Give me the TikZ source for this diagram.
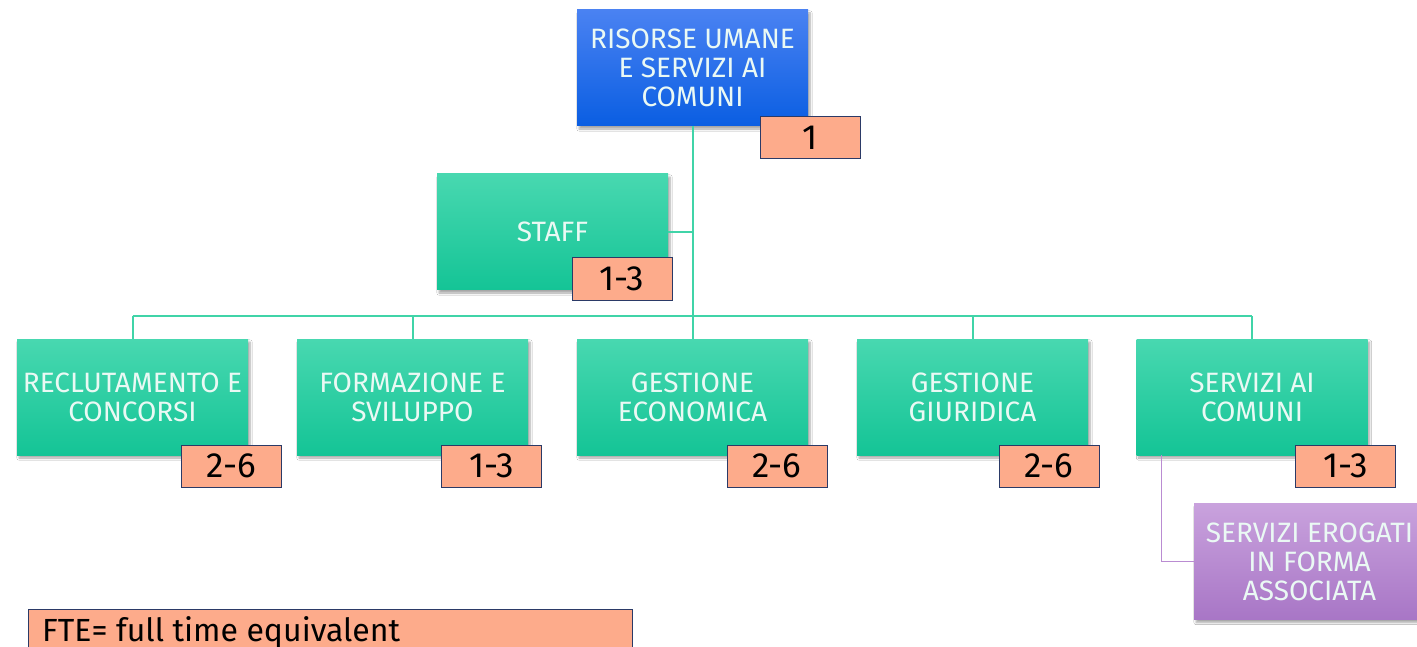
\documentclass[tikz,border=0pt]{standalone}
\usepackage{fontspec}
\setmainfont{Fira Sans}
\usetikzlibrary{shadows.blur,calc}
\definecolor{bluetop}{HTML}{4A82F2}
\definecolor{bluebot}{HTML}{0A5EE2}
\definecolor{greentop}{HTML}{48D8B0}
\definecolor{greenbot}{HTML}{14C496}
\definecolor{purptop}{HTML}{C9A2DD}
\definecolor{purpbot}{HTML}{A876C6}
\definecolor{orangefill}{HTML}{FDAB8B}
\definecolor{navy}{HTML}{2B3A67}
\definecolor{linegreen}{HTML}{40D4A8}
\definecolor{linepurp}{HTML}{BA8CD2}
\definecolor{boxtext}{HTML}{EAF9F4}
\tikzset{
  unit/.style={minimum width=231pt, minimum height=116pt, inner sep=0pt, align=center,
    text=boxtext, font=\fontsize{28}{29}\selectfont,
    blur shadow={shadow xshift=2pt, shadow yshift=-3pt, shadow blur steps=6, shadow opacity=35}},
  bluebox/.style={unit, top color=bluetop, bottom color=bluebot},
  greenbox/.style={unit, top color=greentop, bottom color=greenbot},
  purpbox/.style={unit, top color=purptop, bottom color=purpbot},
  numbox/.style={draw=navy, line width=1pt, fill=orangefill, minimum width=100pt, minimum height=42pt,
    inner sep=0pt, font=\fontsize{35}{35}\selectfont, text=black},
  conn/.style={draw=linegreen, line width=2pt},
  pconn/.style={draw=linepurp, line width=1.5pt},
}
\begin{document}
\begin{tikzpicture}[x=1pt,y=-1pt]
\useasboundingbox (0,0) rectangle (1417,647);
\clip (0,0) rectangle (1417,647);
\fill[white] (0,0) rectangle (1417,647);
\coordinate (bus) at (692.5,316);
\node[bluebox] (top) at (692.5,68) {RISORSE UMANE\\E SERVIZI AI\\COMUNI};
\node[greenbox] (staff) at (552.5,232) {STAFF};
\node[greenbox] (recl) at (132.5,397) {RECLUTAMENTO E\\CONCORSI};
\node[greenbox] (form) at (412.5,397) {FORMAZIONE E\\SVILUPPO};
\node[greenbox] (econ) at (692.5,397) {GESTIONE\\ECONOMICA};
\node[greenbox] (giur) at (972.5,397) {GESTIONE\\GIURIDICA};
\node[greenbox] (serv) at (1252,397) {SERVIZI AI\\COMUNI};
\node[purpbox] (assoc) at (1309.5,561.5) {SERVIZI EROGATI\\IN FORMA\\ASSOCIATA};
\draw[conn] (top.south) -- (bus);
\draw[conn] (staff.east) -- (staff.east -| bus);
\draw[conn] (recl.north |- bus) -- (serv.north |- bus);
\foreach \n in {recl,form,econ,giur,serv} \draw[conn] (\n.north |- bus) -- (\n.north);
\coordinate (pstart) at ($(serv.south west)+(25,0)$);
\draw[pconn] (pstart) |- (assoc.west);
\node[numbox] (n1) at (810.5,138) {1};
\node[numbox] (n2) at (622,279) {1-3};
\node[numbox] (n3) at (231.5,466) {2-6};
\node[numbox] (n4) at (491.5,466) {1-3};
\node[numbox] (n5) at (777,466) {2-6};
\node[numbox] (n6) at (1049,466) {2-6};
\node[numbox] (n7) at (1345.5,466) {1-3};
\node[draw=navy, line width=1pt, fill=orangefill, minimum width=604pt, minimum height=52pt,
  inner sep=0pt, anchor=north west, text=black] (fte) at (28,609) {};
\node[anchor=base west, font=\fontsize{32}{32}\selectfont, text=black, inner sep=0pt] (ftetext) at (42,641) {FTE= full time equivalent};
\end{tikzpicture}
\end{document}
